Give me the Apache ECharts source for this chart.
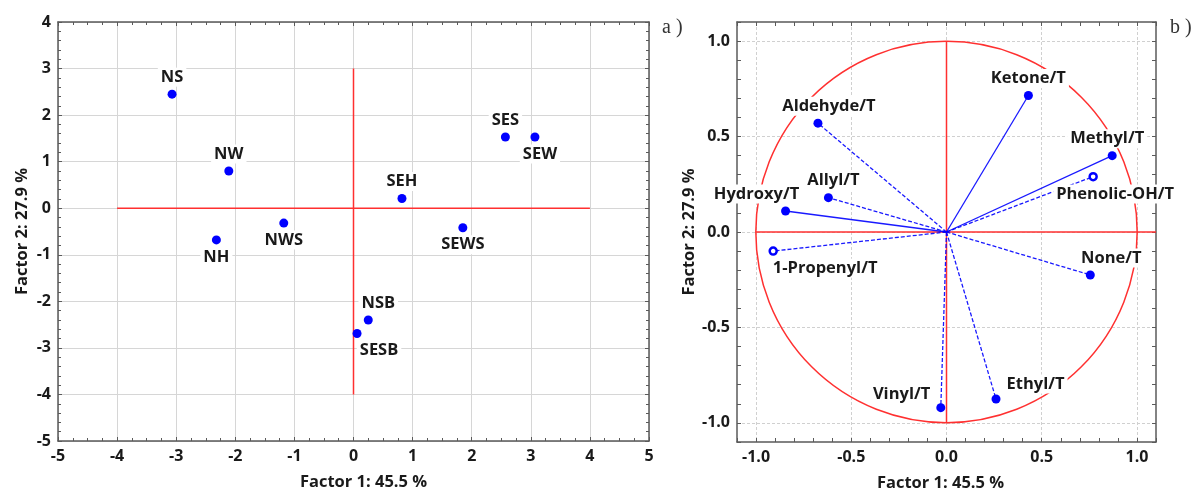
<!DOCTYPE html>
<html>
<head>
<meta charset="UTF-8">
<title>Factor analysis: scores and loadings</title>
<script src="https://cdn.jsdelivr.net/npm/echarts@6/dist/echarts.min.js"></script>
<style>
    html, body { margin: 0; padding: 0; background: #fff; }
    #chart { width: 1197px; height: 491px; }
</style>
</head>
<body>
<div id="chart"></div>
<script>
    // a) scores
    const scoreNames = ['NS', 'NW', 'NWS', 'NH', 'SEH', 'SES', 'SEW', 'SEWS', 'NSB', 'SESB'];
    const scoreX = [-3.07, -2.11, -1.18, -2.32, 0.82, 2.57, 3.07, 1.85, 0.25, 0.06];
    const scoreY = [2.45, 0.80, -0.32, -0.68, 0.21, 1.53, 1.53, -0.42, -2.40, -2.69];
    const scoreCrossH = [[-4, 0], [4, 0]];
    const scoreCrossV = [[0, 3], [0, -4]];

    // b) loadings
    const loadNames = ['Ketone/T', 'Methyl/T', 'Phenolic-OH/T', 'None/T', 'Ethyl/T', 'Vinyl/T',
                       '1-Propenyl/T', 'Hydroxy/T', 'Allyl/T', 'Aldehyde/T'];
    const loadX = [0.43, 0.87, 0.77, 0.755, 0.26, -0.03, -0.91, -0.845, -0.62, -0.675];
    const loadY = [0.715, 0.40, 0.29, -0.225, -0.875, -0.92, -0.10, 0.11, 0.18, 0.57];
    const loadCrossH = [[-1, 0], [1.1, 0]];
    const loadCrossV = [[0, 1], [0, -1]];
    const loadMajorTicks = [-1, -0.5, 0, 0.5, 1];

    // styling per point (kept apart from the values)
    const scoreLabelPos = {
        NS: ['top', 0, 0], NW: ['top', 0, 0], NWS: ['bottom', 0, 0], NH: ['bottom', 0, 0],
        SEH: ['top', 0, 0], SES: ['top', 0, 0], SEW: ['bottom', 5, 0], SEWS: ['bottom', 0, 0],
        NSB: ['top', 10, 0], SESB: ['bottom', 22, 0]
    };
    const loadLabelPos = {
        'Ketone/T': ['top', 0, 0], 'Methyl/T': ['top', -5, 0], 'Phenolic-OH/T': ['bottom', 22, 0],
        'None/T': ['top', 21, 0], 'Ethyl/T': ['right', 0, -15], 'Vinyl/T': ['left', 0, -13],
        '1-Propenyl/T': ['bottom', 52, 0], 'Hydroxy/T': ['top', -29, 0], 'Allyl/T': ['top', 5, 0],
        'Aldehyde/T': ['top', 11, 0]
    };
    const solidRays = ['Ketone/T', 'Methyl/T', 'Hydroxy/T'];
    const hollowPoints = ['Phenolic-OH/T', '1-Propenyl/T'];

    const RED = '#ff3030';
    const BLUE = '#0000ff';
    const AXIS = '#5a5a5a';
    const FONT = "'Open Sans', 'Noto Sans', sans-serif";

    const labelStyle = {
        show: true,
        fontFamily: FONT,
        fontWeight: 'bold',
        fontSize: 16.5,
        color: '#1a1a1a',
        backgroundColor: '#fff',
        padding: [1, 3],
        distance: 3
    };

    function tickAxis(grid, pos, opts) {
        return Object.assign({
            type: 'value',
            gridIndex: grid,
            position: pos,
            axisLine: { show: true, onZero: false, lineStyle: { color: AXIS, width: 1.5 } },
            axisTick: { show: true, inside: true, length: 4, lineStyle: { color: AXIS } },
            axisLabel: { show: false },
            splitLine: { show: false }
        }, opts);
    }

    const axisLabelStyle = {
        show: true,
        fontFamily: FONT,
        fontWeight: 'bold',
        fontSize: 16,
        color: '#1a1a1a',
        margin: 7
    };
    const nameStyle = { fontFamily: FONT, fontWeight: 'bold', fontSize: 16.5, color: '#1a1a1a' };

    // left panel axes
    const scoreXRange = { min: -5, max: 5, interval: 1 };
    const scoreYRange = { min: -5, max: 4, interval: 1 };
    const xMinor = { show: true, splitNumber: 4, length: 3, lineStyle: { color: AXIS } };
    const yMinor = { show: true, splitNumber: 5, length: 3, lineStyle: { color: AXIS } };

    const xAxes = [
        tickAxis(0, 'bottom', Object.assign({}, scoreXRange, {
            minorTick: xMinor,
            axisLabel: axisLabelStyle,
            splitLine: { show: true, lineStyle: { color: '#d6d6d6', width: 1 } },
            name: 'Factor 1: 45.5 %', nameLocation: 'middle', nameGap: 33,
            nameTextStyle: Object.assign({ padding: [0, 0, 0, 20] }, nameStyle)
        })),
        tickAxis(0, 'top', Object.assign({}, scoreXRange, { minorTick: xMinor })),
        tickAxis(1, 'bottom', {
            min: -1.1, max: 1.1, interval: 0.1,
            axisLabel: Object.assign({ customValues: loadMajorTicks, formatter: v => v.toFixed(1) }, axisLabelStyle),
            name: 'Factor 1: 45.5 %', nameLocation: 'middle', nameGap: 33,
            nameTextStyle: Object.assign({ padding: [0, 12, 0, 0] }, nameStyle)
        }),
        tickAxis(1, 'top', { min: -1.1, max: 1.1, interval: 0.1 }),
        tickAxis(1, 'bottom', {
            min: -1.1, max: 1.1,
            axisLine: { show: false },
            axisTick: { show: false, customValues: loadMajorTicks },
            splitLine: { show: true, lineStyle: { color: '#d0d0d0', type: [3, 2] } }
        })
    ];
    const yAxes = [
        tickAxis(0, 'left', Object.assign({}, scoreYRange, {
            minorTick: yMinor,
            axisLabel: axisLabelStyle,
            splitLine: { show: true, lineStyle: { color: '#d6d6d6', width: 1 } },
            name: 'Factor 2: 27.9 %', nameLocation: 'middle', nameGap: 27,
            nameTextStyle: nameStyle
        })),
        tickAxis(0, 'right', Object.assign({}, scoreYRange, { minorTick: yMinor })),
        tickAxis(1, 'left', {
            min: -1.1, max: 1.1, interval: 0.1,
            axisLabel: Object.assign({ customValues: loadMajorTicks, formatter: v => v.toFixed(1) }, axisLabelStyle),
            name: 'Factor 2: 27.9 %', nameLocation: 'middle', nameGap: 39,
            nameTextStyle: nameStyle
        }),
        tickAxis(1, 'right', { min: -1.1, max: 1.1, interval: 0.1 }),
        tickAxis(1, 'left', {
            min: -1.1, max: 1.1,
            axisLine: { show: false },
            axisTick: { show: false, customValues: loadMajorTicks },
            splitLine: { show: true, lineStyle: { color: '#d0d0d0', type: [3, 2] } }
        })
    ];

    function redLine(xi, yi, data) {
        return {
            type: 'line', xAxisIndex: xi, yAxisIndex: yi, data: data,
            symbol: 'none', silent: true, z: 2,
            lineStyle: { color: RED, width: 1.5 }
        };
    }

    const series = [
        redLine(0, 0, scoreCrossH),
        redLine(0, 0, scoreCrossV),
        {
            type: 'scatter', xAxisIndex: 0, yAxisIndex: 0, z: 5,
            symbolSize: 9,
            itemStyle: { color: BLUE, opacity: 1 },
            data: scoreNames.map((n, i) => {
                const p = scoreLabelPos[n];
                return {
                    name: n, value: [scoreX[i], scoreY[i]],
                    label: Object.assign({}, labelStyle, { formatter: n, position: p[0], offset: [p[1], p[2]] })
                };
            })
        },
        // correlation circle
        {
            type: 'custom', xAxisIndex: 2, yAxisIndex: 2, z: 1, silent: true,
            data: [[0, 0, 1]],
            renderItem: function (params, api) {
                const c = api.coord([api.value(0), api.value(1)]);
                const s = api.size([api.value(2), api.value(2)]);
                return {
                    type: 'circle',
                    shape: { cx: c[0], cy: c[1], r: (s[0] + s[1]) / 2 },
                    style: { fill: 'none', stroke: RED, lineWidth: 1.5 }
                };
            }
        },
        redLine(2, 2, loadCrossH),
        redLine(2, 2, loadCrossV)
    ];

    loadNames.forEach((n, i) => {
        const solid = solidRays.indexOf(n) >= 0;
        series.push({
            type: 'line', xAxisIndex: 2, yAxisIndex: 2, symbol: 'none', silent: true, z: 3,
            data: [[0, 0], [loadX[i], loadY[i]]],
            lineStyle: { color: BLUE, width: 1.3, type: solid ? 'solid' : [4, 2], opacity: 0.9 }
        });
    });

    series.push({
        type: 'scatter', xAxisIndex: 2, yAxisIndex: 2, z: 5,
        symbolSize: 9,
        itemStyle: { color: BLUE, opacity: 1 },
        data: loadNames.map((n, i) => {
            const p = loadLabelPos[n];
            const hollow = hollowPoints.indexOf(n) >= 0;
            return {
                name: n, value: [loadX[i], loadY[i]],
                symbolSize: hollow ? 7 : 9,
                itemStyle: hollow ? { color: '#fff', borderColor: BLUE, borderWidth: 2.5 } : { color: BLUE },
                label: Object.assign({}, labelStyle, { formatter: n, position: p[0], offset: [p[1], p[2]] })
            };
        })
    });

    const chart = echarts.init(document.getElementById('chart'));
    chart.setOption({
        backgroundColor: '#fff',
        animation: false,
        grid: [
            { left: 58, top: 22, width: 591, height: 419, outerBoundsMode: 'none', containLabel: false },
            { left: 737, top: 22, width: 419, height: 420, outerBoundsMode: 'none', containLabel: false }
        ],
        xAxis: xAxes,
        yAxis: yAxes,
        series: series,
        graphic: [
            { type: 'text', left: 662, top: 18, style: { text: 'a )', font: "20px 'Liberation Serif', 'DejaVu Serif', serif", fill: '#333' } },
            { type: 'text', left: 1170, top: 18, style: { text: 'b )', font: "20px 'Liberation Serif', 'DejaVu Serif', serif", fill: '#333' } }
        ]
    });
</script>
</body>
</html>
